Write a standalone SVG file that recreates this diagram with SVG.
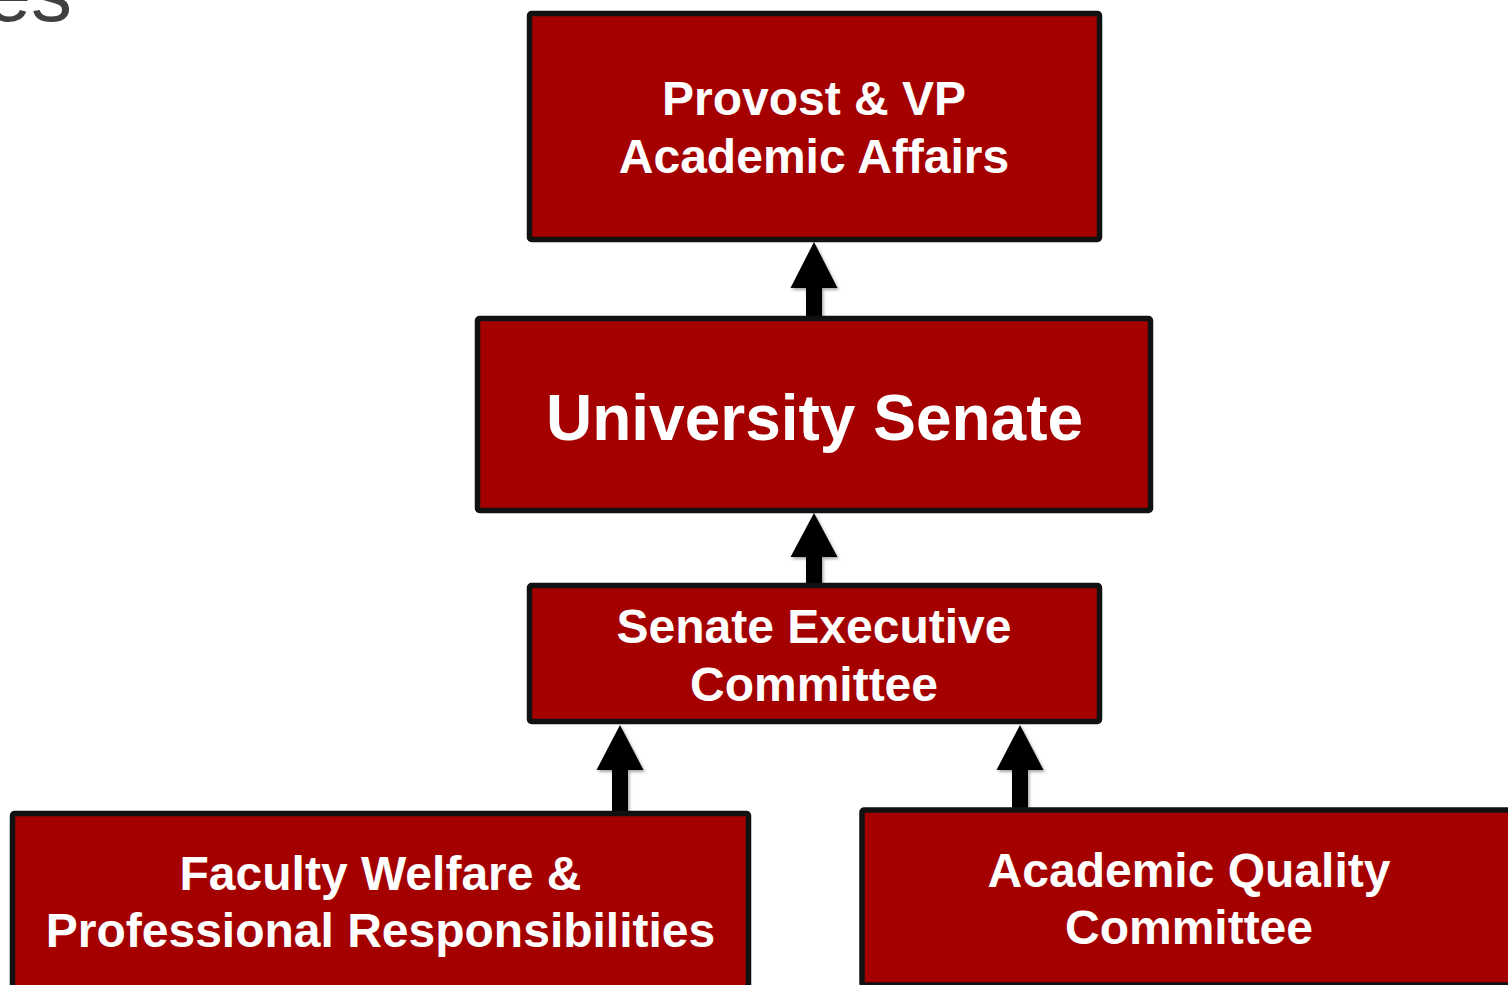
<svg xmlns="http://www.w3.org/2000/svg" width="1508" height="985" viewBox="0 0 1508 985">
<defs>
<style>
.box{fill:#A50000;stroke:#111;stroke-width:5.5}
.lbl{fill:#fff;font-family:"Liberation Sans",Arial,sans-serif;font-weight:bold;text-anchor:middle;font-size:48px}
.arw{fill:#000;filter:url(#sh)}
</style>
<filter id="sh" x="-30%" y="-30%" width="160%" height="160%">
<feDropShadow dx="1.5" dy="2" stdDeviation="1.5" flood-color="#000" flood-opacity="0.35"/>
</filter>
</defs>
<rect width="1508" height="985" fill="#fff"/>
<text x="72" y="21" font-family="'Liberation Sans',Arial,sans-serif" font-size="82" fill="#404040" text-anchor="end">es</text>
<g id="connectors">
<path class="arw" d="M814,242 L837.5,288 L822,288 L822,318 L806,318 L806,288 L790.5,288 Z"/>
<path class="arw" d="M814,513 L837.5,557 L822,557 L822,585 L806,585 L806,557 L790.5,557 Z"/>
<path class="arw" d="M620,725 L643.5,770 L628,770 L628,812 L612,812 L612,770 L596.5,770 Z"/>
<path class="arw" d="M1020,725 L1043.5,770 L1028,770 L1028,810 L1012,810 L1012,770 L996.5,770 Z"/>
</g>
<g id="provost">
<rect class="box" x="529.5" y="13.5" width="570" height="226" rx="2"/>
<text class="lbl" x="814" y="115">Provost &amp; VP</text>
<text class="lbl" x="814" y="173">Academic Affairs</text>
</g>
<g id="senate">
<rect class="box" x="477.5" y="318.5" width="673" height="192" rx="2"/>
<text class="lbl" style="font-size:64px" x="814.5" y="440">University Senate</text>
</g>
<g id="sec">
<rect class="box" x="529.5" y="585.5" width="570" height="136" rx="2"/>
<text class="lbl" x="814" y="643">Senate Executive</text>
<text class="lbl" x="814" y="701">Committee</text>
</g>
<g id="fwpr">
<rect class="box" x="12.5" y="813.5" width="736" height="200" rx="2"/>
<text class="lbl" x="380.5" y="890">Faculty Welfare &amp;</text>
<text class="lbl" x="380.5" y="947">Professional Responsibilities</text>
</g>
<g id="aqc">
<rect class="box" x="862" y="810" width="700" height="175" rx="2"/>
<text class="lbl" x="1189" y="887">Academic Quality</text>
<text class="lbl" x="1189" y="944">Committee</text>
</g>
</svg>
